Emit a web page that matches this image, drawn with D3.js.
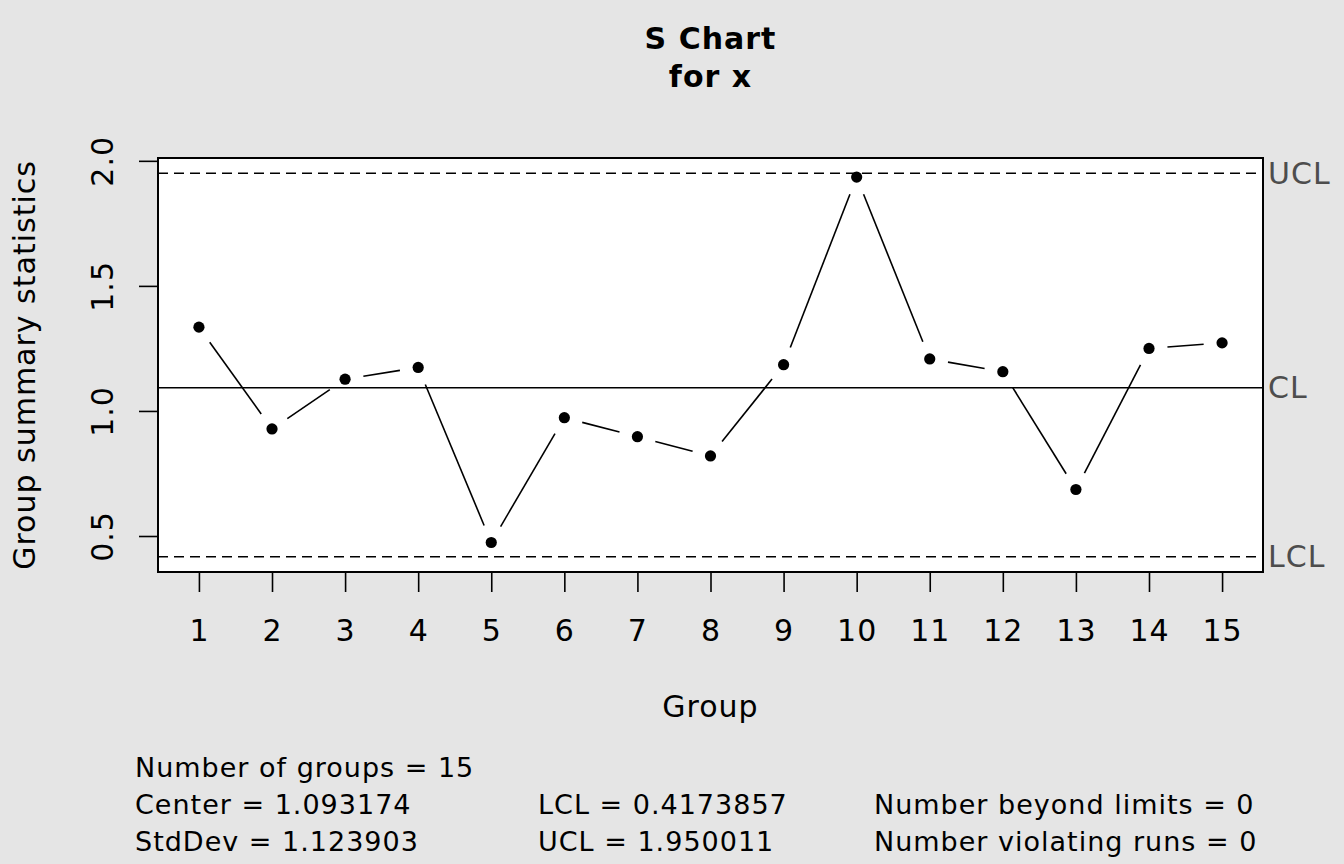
<!DOCTYPE html>
<html>
<head>
<meta charset="utf-8">
<script src="https://cdn.jsdelivr.net/npm/d3@7"></script>
<style>
  html, body { margin: 0; padding: 0; background: #e5e5e5; }
  svg { display: block; }
  text { font-family: "DejaVu Sans", sans-serif; }
</style>
</head>
<body>
<svg id="chart" width="1344" height="864"></svg>
<script>
// ---- data ----
const groups = [1, 2, 3, 4, 5, 6, 7, 8, 9, 10, 11, 12, 13, 14, 15];
const stdevs = [1.335, 0.928, 1.127, 1.174, 0.474, 0.973, 0.897, 0.820, 1.185, 1.935, 1.208, 1.157, 0.686, 1.250, 1.272];
const yTicks = [0.5, 1.0, 1.5, 2.0];
const limitNames = ["UCL", "CL", "LCL"];
const limitValues = [1.950011, 1.093174, 0.4173857];
const statsLines = [
  ["Number of groups = 15", "", ""],
  ["Center = 1.093174", "LCL = 0.4173857", "Number beyond limits = 0"],
  ["StdDev = 1.123903", "UCL = 1.950011", "Number violating runs = 0"]
];
const titleLines = ["S Chart", "for x"];

// ---- layout ----
const svg = d3.select("#chart");
const L = 158, R = 1263, T = 158, B = 572;
const fs = 30, ls = "1px";

const xExt = [d3.min(groups), d3.max(groups)];
const xPad = (xExt[1] - xExt[0]) * 0.04;
const x = d3.scaleLinear().domain([xExt[0] - xPad, xExt[1] + xPad]).range([L, R]);
const yLo = Math.min(d3.min(stdevs), d3.min(limitValues));
const yHi = Math.max(d3.max(stdevs), d3.max(limitValues));
const yPad = (yHi - yLo) * 0.04;
const y = d3.scaleLinear().domain([yLo - yPad, yHi + yPad]).range([B, T]);

// plot background
svg.append("rect").attr("x", L).attr("y", T).attr("width", R - L).attr("height", B - T)
  .attr("fill", "#ffffff");

// limit lines
limitNames.forEach((nm, i) => {
  const yy = y(limitValues[i]);
  svg.append("line").attr("x1", L).attr("x2", R).attr("y1", yy).attr("y2", yy)
    .attr("stroke", "#000").attr("stroke-width", 1.5)
    .attr("stroke-dasharray", nm === "CL" ? null : "10,6");
  svg.append("text").attr("x", R + 5).attr("y", yy).attr("dy", "0.36em")
    .attr("font-size", fs).attr("letter-spacing", ls).attr("fill", "#4d4d4d").text(nm);
});

// data line segments with gaps (type "b")
const gap = 18.5;
for (let i = 0; i < groups.length - 1; i++) {
  const x0 = x(groups[i]), y0 = y(stdevs[i]);
  const x1 = x(groups[i + 1]), y1 = y(stdevs[i + 1]);
  const dx = x1 - x0, dy = y1 - y0, len = Math.hypot(dx, dy);
  if (len <= 2 * gap) continue;
  const ux = dx / len, uy = dy / len;
  svg.append("line")
    .attr("x1", x0 + ux * gap).attr("y1", y0 + uy * gap)
    .attr("x2", x1 - ux * gap).attr("y2", y1 - uy * gap)
    .attr("stroke", "#000").attr("stroke-width", 1.6);
}
svg.append("g").selectAll("circle").data(groups).join("circle")
  .attr("cx", d => x(d)).attr("cy", (d, i) => y(stdevs[i])).attr("r", 5.6)
  .attr("fill", "#000");

// frame
svg.append("rect").attr("x", L).attr("y", T).attr("width", R - L).attr("height", B - T)
  .attr("fill", "none").attr("stroke", "#000").attr("stroke-width", 2);

// x axis
const xAxis = d3.axisBottom(x).tickValues(groups).tickSize(20).tickPadding(24).tickFormat(d3.format("d"));
const gx = svg.append("g").attr("transform", `translate(0,${B})`).call(xAxis);
gx.select(".domain").remove();
gx.selectAll(".tick line").attr("stroke", "#000").attr("stroke-width", 1.6);
gx.selectAll(".tick text").attr("font-size", fs).attr("letter-spacing", ls).attr("fill", "#000")
  .attr("font-family", "DejaVu Sans, sans-serif").attr("dy", null).attr("y", 69);

// y axis
const yAxis = d3.axisLeft(y).tickValues(yTicks).tickSize(19).tickFormat(d3.format(".1f"));
const gy = svg.append("g").attr("transform", `translate(${L},0)`).call(yAxis);
gy.select(".domain").remove();
gy.selectAll(".tick line").attr("stroke", "#000").attr("stroke-width", 1.6);
gy.selectAll(".tick text").attr("font-size", fs).attr("letter-spacing", ls).attr("fill", "#000")
  .attr("font-family", "DejaVu Sans, sans-serif")
  .attr("x", null).attr("dy", null)
  .attr("text-anchor", "middle")
  .attr("transform", "translate(-45,0) rotate(-90)");

// axis titles
svg.append("text").attr("x", (L + R) / 2).attr("y", 717).attr("text-anchor", "middle")
  .attr("font-size", fs).attr("letter-spacing", ls).attr("fill", "#000").text("Group");
svg.append("text").attr("transform", `translate(35,${(T + B) / 2}) rotate(-90)`)
  .attr("text-anchor", "middle").attr("font-size", fs).attr("letter-spacing", ls).attr("fill", "#000")
  .text("Group summary statistics");

// title
titleLines.forEach((t, i) => {
  svg.append("text").attr("x", (L + R) / 2).attr("y", 49 + i * 38)
    .attr("text-anchor", "middle").attr("font-size", fs).attr("font-weight", "bold")
    .attr("letter-spacing", ls).attr("fill", "#000").text(t);
});

// stats
const colX = [135, 538, 874];
statsLines.forEach((row, r) => {
  row.forEach((t, c) => {
    if (!t) return;
    svg.append("text").attr("x", colX[c]).attr("y", 777 + r * 37)
      .attr("font-size", 27).attr("letter-spacing", "1px").attr("fill", "#000").text(t);
  });
});
</script>
</body>
</html>
